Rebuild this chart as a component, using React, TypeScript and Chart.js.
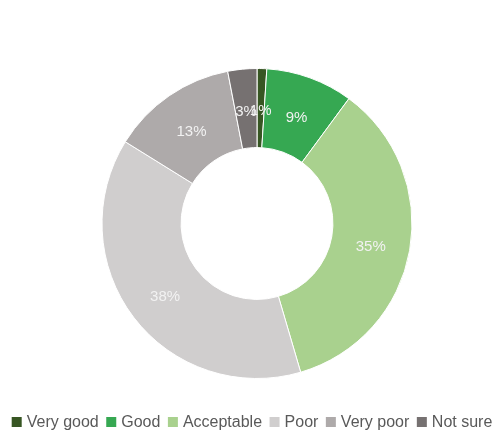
import React, { useEffect, useRef } from "react";
import { Chart, registerables } from "chart.js";

Chart.register(...registerables);

const categories = ["Very good", "Good", "Acceptable", "Poor", "Very poor", "Not sure"];
const values = [1, 9, 35, 38, 13, 3];
const colors = ["#375623", "#36A852", "#A9D18E", "#D0CECE", "#AEAAAA", "#767171"];

const FONT = "'Liberation Sans', 'DejaVu Sans', sans-serif";

const labelPlugin = {
  id: "sliceLabels",
  afterDatasetsDraw(chart: any) {
    const ctx = chart.ctx;
    const meta = chart.getDatasetMeta(0);
    ctx.save();
    ctx.font = "15px " + FONT;
    ctx.fillStyle = "#F2F2F2";
    ctx.textAlign = "center";
    ctx.textBaseline = "middle";
    meta.data.forEach((arc: any, i: number) => {
      const { x, y, startAngle, endAngle, innerRadius, outerRadius } = arc.getProps(
        ["x", "y", "startAngle", "endAngle", "innerRadius", "outerRadius"],
        true
      );
      const mid = (startAngle + endAngle) / 2;
      const r = (innerRadius + outerRadius) / 2;
      ctx.fillText(values[i] + "%", x + Math.cos(mid) * r, y + Math.sin(mid) * r + 3);
    });
    ctx.restore();
  },
};

const legendPlugin = {
  id: "bottomLegend",
  afterDraw(chart: any) {
    const ctx = chart.ctx;
    ctx.save();
    ctx.font = "16px " + FONT;
    ctx.textBaseline = "middle";
    ctx.textAlign = "left";
    const box = 10;
    const gapBoxText = 5;
    const gapItems = 7.5;
    const widths = categories.map((c) => ctx.measureText(c).width);
    const total =
      widths.reduce((a, w) => a + box + gapBoxText + w, 0) + gapItems * (categories.length - 1);
    let x = 252 - total / 2;
    const cy = 422;
    categories.forEach((c, i) => {
      ctx.fillStyle = colors[i];
      ctx.fillRect(x, cy - box / 2, box, box);
      ctx.fillStyle = "#595959";
      ctx.fillText(c, x + box + gapBoxText, cy + 1);
      x += box + gapBoxText + widths[i] + gapItems;
    });
    ctx.restore();
  },
};

export default function App() {
  const ref = useRef<HTMLCanvasElement>(null);
  useEffect(() => {
    if (!ref.current) return;
    const chart = new Chart(ref.current, {
      type: "doughnut",
      data: {
        labels: categories,
        datasets: [
          {
            data: values,
            backgroundColor: colors,
            borderColor: "#FFFFFF",
            borderWidth: 1,
          },
        ],
      },
      plugins: [labelPlugin, legendPlugin],
      options: {
        responsive: false,
        animation: false,
        cutout: "49%",
        layout: { padding: { top: 68, left: 21, right: 0, bottom: 55 } },
        plugins: {
          tooltip: { enabled: false },
          legend: { display: false },
        },
      },
    });
    return () => chart.destroy();
  }, []);
  return (
    <div style={{ position: "fixed", left: 0, top: 0, width: 493, height: 434, background: "#fff" }}>
      <canvas ref={ref} width={493} height={434} style={{ width: 493, height: 434 }} />
    </div>
  );
}
